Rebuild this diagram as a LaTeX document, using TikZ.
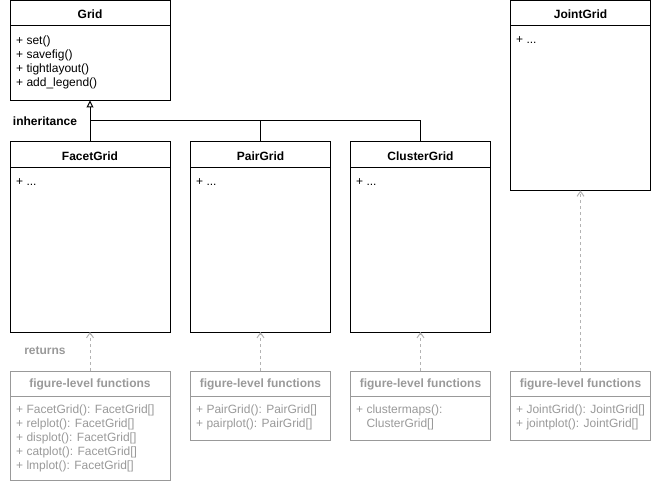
\documentclass[tikz,border=0pt]{standalone}
\usepackage{fontspec}
\setmainfont{Liberation Sans}
\usetikzlibrary{arrows.meta}
\definecolor{fgray}{HTML}{999999}
\definecolor{agray}{HTML}{B3B3B3}
\begin{document}
\begin{tikzpicture}[x=1pt,y=-1pt,
  umlbox/.style={draw=black, line width=1pt, rectangle, anchor=north west, inner sep=0pt, outer sep=0pt},
  fbox/.style={draw=fgray, line width=1pt, rectangle, anchor=north west, inner sep=0pt, outer sep=0pt},
  titletext/.style={font=\fontsize{12}{14}\selectfont\bfseries, inner sep=0pt},
  ftitletext/.style={font=\fontsize{12}{14}\selectfont\bfseries, text=fgray, inner sep=0pt},
  bodytext/.style={font=\fontsize{12}{14}\selectfont, align=left, anchor=north west, inner sep=0pt},
  fbodytext/.style={font=\fontsize{12}{14}\selectfont, align=left, anchor=north west, inner sep=0pt, text=fgray},
  sepline/.style={line width=1pt, draw=black},
  fsepline/.style={line width=1pt, draw=fgray},
  inh/.style={line width=1pt, draw=black},
  dep/.style={line width=1pt, draw=agray, dash pattern=on 3pt off 3pt, -{Straight Barb[length=5pt,width=7pt]}},
]
\useasboundingbox (0,0) rectangle (651,484);

% ---- Grid
\node[umlbox, minimum width=160pt, minimum height=100pt] (grid) at (10,0.5) {};
\draw[sepline] (10,26) -- (170,26);
\node[titletext] (gridT) at (90,14) {Grid};
\node[bodytext] (gridB) at (16,36) {+ set()\\+ savefig()\\+ tightlayout()\\+ add\_legend()};

% ---- JointGrid
\node[umlbox, minimum width=140pt, minimum height=190pt] (joint) at (510.5,0.5) {};
\draw[sepline] (510.5,26) -- (650.5,26);
\node[titletext] (jointT) at (580.5,14) {JointGrid};
\node[bodytext] (jointB) at (516,36) {+ ...};

% ---- FacetGrid
\node[umlbox, minimum width=160pt, minimum height=190pt] (facet) at (10,142) {};
\draw[sepline] (10,168) -- (170,168);
\node[titletext] (facetT) at (90,156) {FacetGrid};
\node[bodytext] (facetB) at (16,178) {+ ...};

% ---- PairGrid
\node[umlbox, minimum width=140pt, minimum height=190pt] (pair) at (190.5,142) {};
\draw[sepline] (190.5,168) -- (330.5,168);
\node[titletext] (pairT) at (260.5,156) {PairGrid};
\node[bodytext] (pairB) at (196,178) {+ ...};

% ---- ClusterGrid
\node[umlbox, minimum width=140pt, minimum height=190pt] (cluster) at (350.5,142) {};
\draw[sepline] (350.5,168) -- (490.5,168);
\node[titletext] (clusterT) at (420.5,156) {ClusterGrid};
\node[bodytext] (clusterB) at (356,178) {+ ...};

% ---- inheritance
\coordinate (junc) at (90,121);
\draw[inh] (facet.north) -- (junc);
\draw[inh] (pair.north) |- (junc);
\draw[inh] (cluster.north) |- (junc);
\draw[inh, -{Triangle[open, length=7pt, width=7pt]}] (junc) -- (grid.south);
\node[titletext] (inhL) at (45,121) {inheritance};

% ---- figure-level boxes
\node[fbox, minimum width=160pt, minimum height=109pt] (ffacet) at (10,371) {};
\draw[fsepline] (10,396) -- (170,396);
\node[ftitletext] (ffacetT) at (90,384) {figure-level functions};
\node[fbodytext] (ffacetB) at (16,405) {+ FacetGrid(): FacetGrid[]\\+ relplot(): FacetGrid[]\\+ displot(): FacetGrid[]\\+ catplot(): FacetGrid[]\\+ lmplot(): FacetGrid[]};

\node[fbox, minimum width=140pt, minimum height=69pt] (fpair) at (190.5,371) {};
\draw[fsepline] (190.5,396) -- (330.5,396);
\node[ftitletext] (fpairT) at (260.5,384) {figure-level functions};
\node[fbodytext] (fpairB) at (196,405) {+ PairGrid(): PairGrid[]\\+ pairplot(): PairGrid[]};

\node[fbox, minimum width=140pt, minimum height=69pt] (fcluster) at (350.5,371) {};
\draw[fsepline] (350.5,396) -- (490.5,396);
\node[ftitletext] (fclusterT) at (420.5,384) {figure-level functions};
\node[fbodytext] (fclusterB) at (356,405) {+ clustermaps():\\\phantom{+ }ClusterGrid[]};

\node[fbox, minimum width=140pt, minimum height=69pt] (fjoint) at (510.5,371) {};
\draw[fsepline] (510.5,396) -- (650.5,396);
\node[ftitletext] (fjointT) at (580.5,384) {figure-level functions};
\node[fbodytext] (fjointB) at (516,405) {+ JointGrid(): JointGrid[]\\+ jointplot(): JointGrid[]};

% ---- returns arrows
\draw[dep] (ffacet.north) -- (facet.south);
\draw[dep] (fpair.north) -- (pair.south);
\draw[dep] (fcluster.north) -- (cluster.south);
\draw[dep] (fjoint.north) -- (joint.south);
\node[ftitletext] (retL) at (45,351) {returns};
\end{tikzpicture}
\end{document}
